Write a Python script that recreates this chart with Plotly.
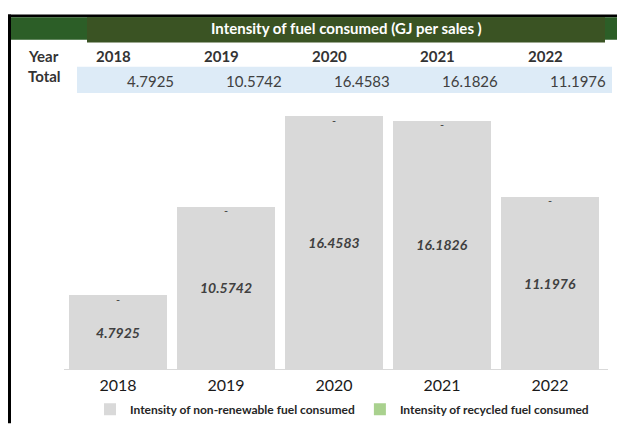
import plotly.graph_objects as go

years = ["2018", "2019", "2020", "2021", "2022"]
non_renewable = [4.7925, 10.5742, 16.4583, 16.1826, 11.1976]
recycled = [0, 0, 0, 0, 0]
totals = [a + b for a, b in zip(non_renewable, recycled)]

title_text = "Intensity of fuel consumed (GJ per sales )"
row_labels = ["Year", "Total"]
series_names = ["Intensity of non-renewable fuel consumed",
                "Intensity of recycled fuel consumed"]

FONT = "Lato, 'Open Sans', sans-serif"
BAR_GREY = "#d9d9d9"
GREEN = "#a9d18e"
TEXT = "#333333"

# the page body adds an 8px margin, so the figure is 16px smaller than the window
PAGE = 8
W, H = 625 - 2 * PAGE, 441 - 2 * PAGE
# plot area in window pixels: x 64..608, y 108..387
L, R, T, B = 64, 608, 108, 387

def px(x):
    return (x - L) / (R - L)

def py(y):
    return (B - y) / (B - T)

fig = go.Figure()

fig.add_trace(go.Bar(
    x=years, y=non_renewable, name=series_names[0],
    marker=dict(color=BAR_GREY, line=dict(width=0)),
    text=[f"{v:.4f}" for v in non_renewable],
    textposition="inside", insidetextanchor="middle",
    textfont=dict(family=FONT, size=14, color="#404040",
                  style="italic", weight="bold"),
))
fig.add_trace(go.Bar(
    x=years, y=recycled, name=series_names[1],
    marker=dict(color=GREEN, line=dict(width=0)),
))
# zero values of the recycled series shown as "-" at the top of each bar
fig.add_trace(go.Scatter(
    x=years, y=totals, mode="text",
    text=["-" if v == 0 else f"{v:.4f}" for v in recycled],
    textposition="bottom center",
    textfont=dict(family=FONT, size=11, color="#404040"),
    showlegend=False, hoverinfo="skip",
))

shapes = [
    # black frame (top and left)
    dict(type="rect", xref="paper", yref="paper", x0=px(8), x1=px(625),
         y0=py(8), y1=py(11), fillcolor="black", line=dict(width=0)),
    dict(type="rect", xref="paper", yref="paper", x0=px(8), x1=px(11),
         y0=py(8), y1=py(445), fillcolor="black", line=dict(width=0)),
    # green band and title box
    dict(type="rect", xref="paper", yref="paper", x0=px(11), x1=px(625),
         y0=py(11), y1=py(35), fillcolor="#2c5e27", line=dict(width=0)),
    dict(type="rect", xref="paper", yref="paper", x0=px(87), x1=px(605),
         y0=py(11), y1=py(38), fillcolor="#3a5323", line=dict(width=0)),
    # light blue totals row
    dict(type="rect", xref="paper", yref="paper", x0=px(77), x1=px(612),
         y0=py(64), y1=py(92), fillcolor="#ddebf7", line=dict(width=0)),
]

annotations = [
    dict(text=f"<b>{title_text}</b>", xref="paper", yref="paper",
         x=px(346), y=py(23), showarrow=False, xanchor="center", yanchor="middle",
         font=dict(family=FONT, size=15, color="white")),
    dict(text=f"<b>{row_labels[0]}</b>", xref="paper", yref="paper",
         x=px(26), y=py(52), showarrow=False, xanchor="left", yanchor="middle",
         font=dict(family=FONT, size=15, color=TEXT)),
    dict(text=f"<b>{row_labels[1]}</b>", xref="paper", yref="paper",
         x=px(26), y=py(74), showarrow=False, xanchor="left", yanchor="middle",
         font=dict(family=FONT, size=15, color=TEXT)),
]
# table cells placed on the category axis (serial index of each year)
for i, (yr, v) in enumerate(zip(years, totals)):
    annotations.append(dict(
        text=f"<b>{yr}</b>", xref="x", yref="paper", x=i, y=py(52),
        xshift=-5, showarrow=False, xanchor="center", yanchor="middle",
        font=dict(family=FONT, size=15, color=TEXT)))
    annotations.append(dict(
        text=f"{v:.4f}", xref="x", yref="paper", x=i, y=py(79),
        xshift=58, showarrow=False, xanchor="right", yanchor="middle",
        font=dict(family=FONT, size=15, color="#404040")))

fig.update_layout(
    width=W, height=H,
    margin=dict(l=L - PAGE, r=W + PAGE - R, t=T - PAGE, b=H + PAGE - B),
    paper_bgcolor="white", plot_bgcolor="white",
    barmode="stack", bargap=0.09,
    font=dict(family=FONT, color=TEXT),
    shapes=shapes, annotations=annotations,
    showlegend=True,
    legend=dict(orientation="h", x=px(90), xanchor="left", y=py(430),
                yanchor="middle", traceorder="normal",
                font=dict(family=FONT, size=12, color="#262626", weight="bold"),
                itemwidth=30, tracegroupgap=0, bgcolor="rgba(0,0,0,0)"),
    xaxis=dict(type="category", showline=True, linecolor=BAR_GREY, linewidth=1,
               showgrid=False, ticks="", ticklabelstandoff=2,
               tickfont=dict(family=FONT, size=16, color="#1a1a1a"),
               fixedrange=True),
    yaxis=dict(visible=False, range=[0, 17], showgrid=False, zeroline=False,
               fixedrange=True),
)

fig.write_html("out.html")
